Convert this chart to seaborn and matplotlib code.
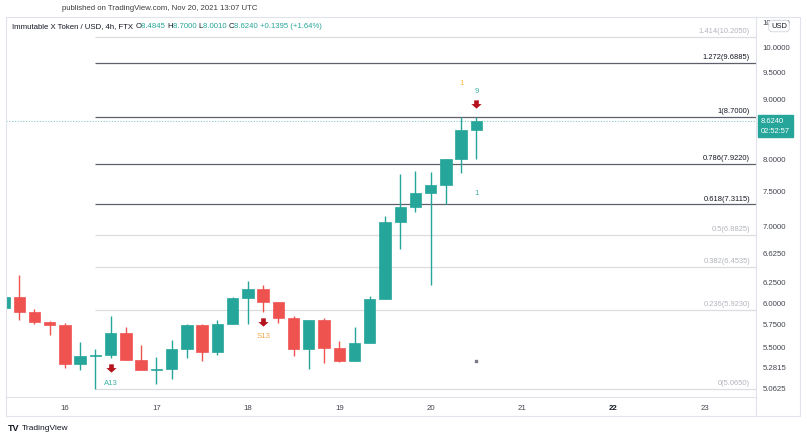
import matplotlib
matplotlib.use("Agg")
import matplotlib.pyplot as plt
import matplotlib.transforms as mtransforms
from matplotlib.path import Path
from matplotlib.patches import Rectangle
from matplotlib.lines import Line2D
from matplotlib.ticker import FixedLocator, NullLocator, FuncFormatter
import pandas as pd
import seaborn as sns

# IMX/USD 4h candles, first visible one opens Nov 15 08:00 UTC
times = pd.date_range("2021-11-15 08:00", periods=32, freq="4h")
opens = [5.95, 6.08, 5.90, 5.78, 5.75, 5.32, 5.40, 5.41, 5.66, 5.36, 5.26, 5.27,
         5.48, 5.75, 5.45, 5.76, 6.07, 6.17, 6.02, 5.83, 5.48, 5.81, 5.49, 5.35,
         5.55, 6.05, 7.06, 7.27, 7.48, 7.60, 8.00, 8.4845]
highs = [6.10, 6.35, 5.94, 5.79, 5.77, 5.56, 5.48, 5.85, 5.72, 5.52, 5.39, 5.58,
         5.76, 5.76, 5.81, 6.08, 6.27, 6.22, 6.02, 5.85, 5.81, 5.83, 5.57, 5.72,
         6.09, 7.14, 7.77, 7.81, 7.80, 8.00, 8.70, 8.70]
lows = [5.93, 5.81, 5.76, 5.63, 5.28, 5.26, 5.065, 5.38, 5.36, 5.26, 5.11, 5.16,
        5.38, 5.35, 5.41, 5.76, 5.76, 5.90, 5.77, 5.40, 5.27, 5.33, 5.34, 5.35,
        5.55, 6.05, 6.69, 7.20, 6.22, 7.31, 7.78, 8.001]
closes = [6.08, 5.90, 5.78, 5.75, 5.32, 5.40, 5.41, 5.66, 5.36, 5.26, 5.27, 5.48,
          5.75, 5.45, 5.76, 6.07, 6.17, 6.02, 5.83, 5.48, 5.81, 5.49, 5.35, 5.55,
          6.05, 7.06, 7.27, 7.48, 7.60, 8.00, 8.4845, 8.624]

# fibonacci retracement drawn from Nov 16 08:00 low
fib_ratios = ["0", "0.236", "0.382", "0.5", "0.618", "0.786", "1", "1.272", "1.414"]
fib_prices = [5.0650, 5.9230, 6.4535, 6.8825, 7.3115, 7.9220, 8.7000, 9.6885, 10.2050]
fib_dark = [False, False, False, False, True, True, True, True, False]
fib_start = pd.Timestamp("2021-11-16 08:00")

price_ticks = [5.0625, 5.2815, 5.5, 5.75, 6.0, 6.25, 6.625, 7.0, 7.5, 8.0,
               9.0, 9.5, 10.0, 10.5]
day_ticks = [16, 17, 18, 19, 20, 21, 22, 23]

# TD sequential style marks: (candle index, text, side, colour)
signal_text = [(7, "A13", "below", "#3fb0a5"), (17, "S13", "below", "#f5a84a"),
               (31, "9", "above", "#3fb0a5"), (30, "1", "above2", "#ffb74d"),
               (31, "1", "below2", "#3fb0a5")]
arrow_idx = [(7, "below"), (17, "below"), (31, "above")]
dot_idx, dot_price = 31, 5.35

GREEN = "#26a69a"
RED = "#ef5350"
DARK = "#131722"
FONT = "Liberation Sans"

sns.set_theme(style="white")
plt.rcParams["font.family"] = [FONT, "DejaVu Sans"]

W, H = 807, 440
fig = plt.figure(figsize=(W / 100, H / 100), dpi=100)
ax = fig.add_axes([6 / W, (H - 397) / H, 750 / W, 380 / H])

x = [t.day + t.hour / 24 for t in times]
up = [c >= o for o, c in zip(opens, closes)]
cols = [GREEN if u else RED for u in up]

ax.vlines(x, lows, highs, colors=cols, lw=1, zorder=2)
bottoms = [min(o, c) for o, c in zip(opens, closes)]
heights = [max(abs(c - o), 0.008) for o, c in zip(opens, closes)]
ax.bar(x, heights, bottom=bottoms, width=0.125, color=cols, edgecolor=cols,
       linewidth=0.5, zorder=3)

ax.set_yscale("log")
ax.set_xlim(15.355, 23.558)
ax.set_ylim(4.98, 10.616)

# fib levels
fx0 = fib_start.day + fib_start.hour / 24
fx1 = ax.get_xlim()[1]
lbl_tr = mtransforms.blended_transform_factory(ax.transAxes, ax.transData)
for r, p, d in zip(fib_ratios, fib_prices, fib_dark):
    ax.hlines(p, fx0, fx1, colors="#5d606b" if d else "#dcdde0", lw=0.9, zorder=1)
    ax.annotate(f"{r}({p:.4f})", xy=(0.992, p), xycoords=lbl_tr,
                xytext=(0, 1.5), textcoords="offset pixels", ha="right", va="bottom",
                fontsize=5.4, color=DARK if d else "#b2b5be")

# current price line
ax.axhline(closes[-1], color=GREEN, lw=0.8, ls=(0, (1, 1.5)), alpha=0.55, zorder=1)

# signal arrows and labels
arrow = Path([(-0.28, 0.5), (0.28, 0.5), (0.28, 0.05), (0.62, 0.05), (0, -0.5),
              (-0.62, 0.05), (-0.28, 0.05), (-0.28, 0.5)], closed=True)
offs = {"below": (-10, -25), "above": (13, 25), "above2": (0, 33), "below2": (0, -35)}
for k, side in arrow_idx:
    base = lows[k] if side == "below" else highs[k]
    tr = mtransforms.offset_copy(ax.transData, fig=fig, x=0, y=offs[side][0], units="dots")
    ax.scatter([x[k]], [base], marker=arrow, s=55, color="#b5121b", transform=tr,
               zorder=5, linewidths=0)
for k, s, side, c in signal_text:
    base = lows[k] if side.startswith("below") else highs[k]
    ax.annotate(s, xy=(x[k], base), xytext=(0, offs[side][1]), textcoords="offset pixels",
                ha="center", va="center", fontsize=5.6, color=c)
ax.scatter([x[dot_idx]], [dot_price], s=3, color="#787b86", marker="s", zorder=5)

# axes styling
ax.yaxis.tick_right()
ax.yaxis.set_major_locator(FixedLocator(price_ticks))
ax.yaxis.set_minor_locator(NullLocator())
ax.yaxis.set_major_formatter(FuncFormatter(lambda v, p: f"{v:.4f}"))
ax.set_xticks(day_ticks)
ax.set_xticklabels([str(d) for d in day_ticks])
for lab in ax.get_xticklabels():
    if lab.get_text() == "22":
        lab.set_color(DARK)
        lab.set_fontweight("semibold")
ax.tick_params(axis="y", length=0, pad=4.5, labelsize=5.6, labelcolor="#434651")
ax.tick_params(axis="x", length=0, pad=6, labelsize=5.6)
for lab in ax.get_xticklabels():
    if lab.get_text() != "22":
        lab.set_color("#434651")
ax.grid(False)
for sp in ax.spines.values():
    sp.set_color("#e0e3eb")
    sp.set_linewidth(0.8)
ax.spines["left"].set_visible(False)
ax.spines["top"].set_visible(False)

# outer frame of the chart pane + axis panes
fig.add_artist(Rectangle((6 / W, (H - 416) / H), 794 / W, 399 / H,
                         transform=fig.transFigure, fill=False, ec="#e0e3eb", lw=0.8))
fig.add_artist(Line2D([756 / W, 756 / W], [(H - 416) / H, (H - 397) / H],
                      transform=fig.transFigure, color="#e0e3eb", lw=0.8))

# last price box
ax.annotate(f"{closes[-1]:.4f}\n02:52:57", xy=(1, closes[-1]), xycoords=lbl_tr,
            xytext=(5, -5), textcoords="offset pixels", ha="left", va="center",
            fontsize=5.4, color="white", linespacing=1.5,
            bbox=dict(boxstyle="square,pad=0.35", fc=GREEN, ec=GREEN))

# USD badge
fig.text(779 / W, 1 - 26 / H, "USD", ha="center", va="center", fontsize=5.4,
         color=DARK, zorder=10,
         bbox=dict(boxstyle="round,pad=0.3,rounding_size=0.4", fc="white", ec="#d1d4dc", lw=0.6))

# header
fig.text(160 / W, 1 - 8 / H, "published on TradingView.com, Nov 20, 2021 13:07 UTC",
         ha="center", va="center", fontsize=5.6, color="#3c3c3c")
renderer = fig.canvas.get_renderer()
chg = closes[-1] - opens[-1]
pct = chg / opens[-1] * 100
parts = [("Immutable X Token / USD, 4h, FTX ", DARK), ("O", DARK), (f"{opens[-1]:.4f} ", GREEN),
         ("H", DARK), (f"{highs[-1]:.4f} ", GREEN), ("L", DARK), (f"{lows[-1]:.4f} ", GREEN),
         ("C", DARK), (f"{closes[-1]:.4f} ", GREEN), (f"+{chg:.4f} (+{pct:.2f}%)", GREEN)]
xpos = 12 / W
for s, c in parts:
    t = fig.text(xpos, 1 - 27 / H, s, ha="left", va="center", fontsize=5.6, color=c)
    bb = t.get_window_extent(renderer=renderer)
    xpos = bb.x1 / fig.bbox.width

# footer logo
fig.text(8 / W, 1 - 428 / H, "TV", ha="left", va="center", fontsize=6.5,
         fontweight="bold", color=DARK)
fig.text(22 / W, 1 - 428 / H, "TradingView", ha="left", va="center", fontsize=6,
         color=DARK)

fig.savefig("out.png", dpi=100, facecolor="white")
